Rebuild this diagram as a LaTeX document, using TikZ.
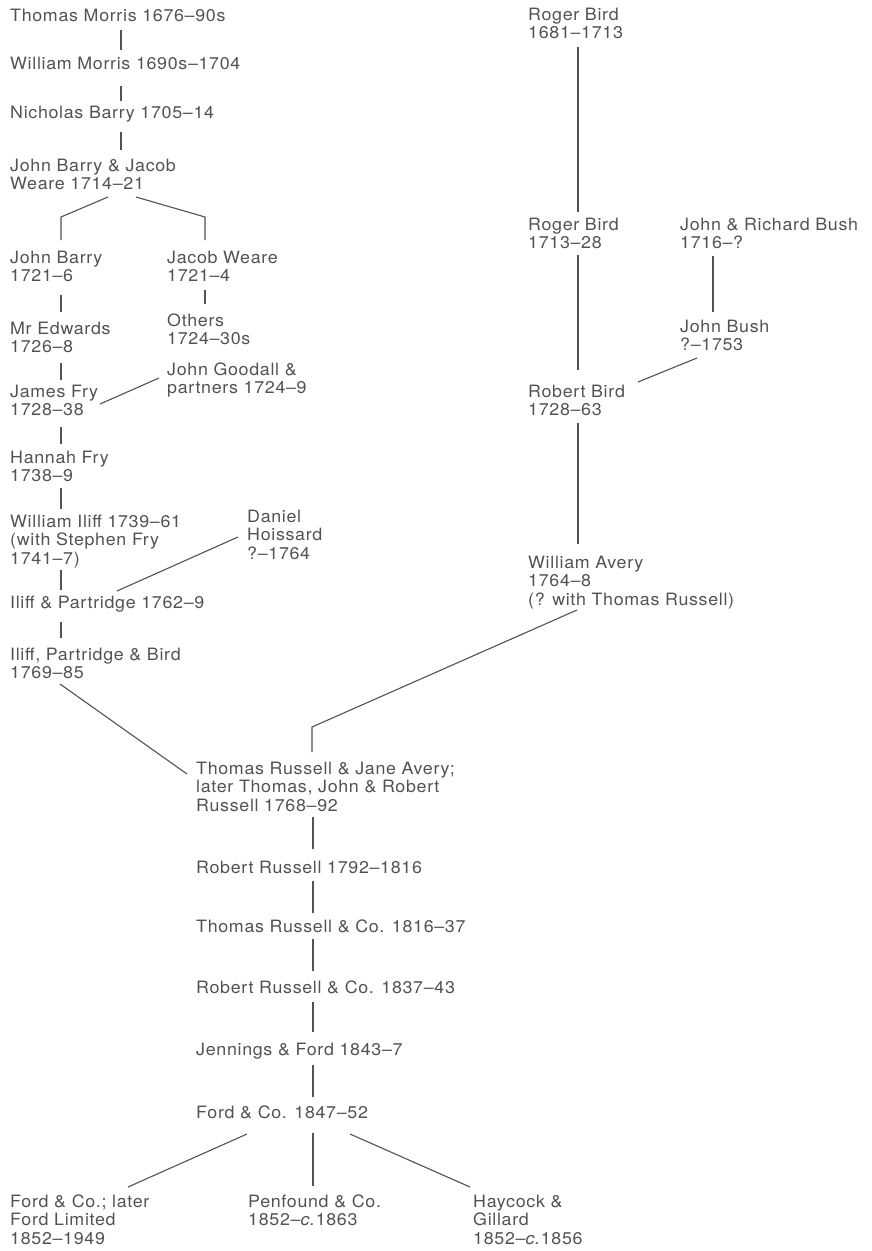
\documentclass[tikz,border=0pt]{standalone}
\usepackage{fontspec}
\setmainfont{TeX Gyre Heros}[FakeStretch=1.05,LetterSpace=4]
\usetikzlibrary{calc}
\definecolor{ink}{RGB}{82,82,82}
\newcommand{\ml}[1]{\begin{tabular}[t]{@{}l@{}}#1\end{tabular}}
\tikzset{
  firm/.style={anchor=base west,inner sep=0pt,text=ink,font=\fontsize{17}{18.5}\selectfont},
  link/.style={draw=ink,line width=1.1pt}
}
\begin{document}
\begin{tikzpicture}[x=1pt,y=-1pt]
\useasboundingbox (0,0) rectangle (872,1251);
% left column
\node[firm] (tm) at (10,21) {Thomas Morris 1676–90s};
\node[firm] (wm) at (10,69) {William Morris 1690s–1704};
\node[firm] (nb) at (10,118) {Nicholas Barry 1705–14};
\node[firm] (jbjw) at (10,171) {\ml{John Barry \& Jacob\\Weare 1714–21}};
\node[firm] (jb) at (10,263) {\ml{John Barry\\1721–6}};
\node[firm] (jw) at (167,263) {\ml{Jacob Weare\\1721–4}};
\node[firm] (oth) at (167,326) {\ml{Others\\1724–30s}};
\node[firm] (me) at (10,334) {\ml{Mr Edwards\\1726–8}};
\node[firm] (jg) at (167,375) {\ml{John Goodall \&\\partners 1724–9}};
\node[firm] (jf) at (10,397) {\ml{James Fry\\1728–38}};
\node[firm] (hf) at (10,463) {\ml{Hannah Fry\\1738–9}};
\node[firm] (wi) at (10,527) {\ml{William Iliff 1739–61\\(with Stephen Fry\\1741–7)}};
\node[firm] (dh) at (247,522) {\ml{Daniel\\Hoissard\\?–1764}};
\node[firm] (ip) at (10,608) {Iliff \& Partridge 1762–9};
\node[firm] (ipb) at (10,660) {\ml{Iliff, Partridge \& Bird\\1769–85}};
% right column
\node[firm] (rb1) at (528,20) {\ml{Roger Bird\\1681–1713}};
\node[firm] (rb2) at (528,230) {\ml{Roger Bird\\1713–28}};
\node[firm] (jrb) at (680,230) {\ml{John \& Richard Bush\\1716–?}};
\node[firm] (jbu) at (680,332) {\ml{John Bush\\?–1753}};
\node[firm] (rob) at (528,397) {\ml{Robert Bird\\1728–63}};
\node[firm] (wa) at (528,568) {\ml{William Avery\\1764–8\\(? with Thomas Russell)}};
% centre column
\node[firm] (tr) at (196,774) {\ml{Thomas Russell \& Jane Avery;\\later Thomas, John \& Robert\\Russell 1768–92}};
\node[firm] (rr) at (196,873) {Robert Russell 1792–1816};
\node[firm] (trc) at (196,932) {Thomas Russell \& Co. 1816–37};
\node[firm] (rrc) at (196,993) {Robert Russell \& Co. 1837–43};
\node[firm] (jef) at (196,1055) {Jennings \& Ford 1843–7};
\node[firm] (fc) at (196,1118) {Ford \& Co. 1847–52};
\node[firm] (fl) at (10,1207) {\ml{Ford \& Co.; later\\Ford Limited\\1852–1949}};
\node[firm] (pf) at (248,1207) {\ml{Penfound \& Co.\\1852–\textit{c.}1863}};
\node[firm] (hg) at (473,1207) {\ml{Haycock \&\\Gillard\\1852–\textit{c.}1856}};
% connectors
\draw[link] ($(tm.base west)+(111,9)$) -- ($(wm.base west)+(111,-19)$);
\draw[link] ($(wm.base west)+(111,17)$) -- ($(nb.base west)+(111,-17)$);
\draw[link] ($(nb.base west)+(111,14)$) -- ($(jbjw.base west)+(111,-21)$);
\draw[link] ($(jbjw.base west)+(98,26)$) -- ($(jb.base west)+(51,-46)$) -- ($(jb.base west)+(51,-23)$);
\draw[link] ($(jbjw.base west)+(126,26)$) -- ($(jw.base west)+(38,-46)$) -- ($(jw.base west)+(38,-23)$);
\draw[link] ($(jb.base west)+(51,32)$) -- ($(me.base west)+(51,-22)$);
\draw[link] ($(jw.base west)+(38,27)$) -- ($(oth.base west)+(38,-22)$);
\draw[link] ($(me.base west)+(51,29)$) -- ($(jf.base west)+(51,-17)$);
\draw[link] ($(jf.base west)+(90,7)$) -- ($(jg.base west)+(-8,3)$);
\draw[link] ($(jf.base west)+(51,30)$) -- ($(hf.base west)+(51,-19)$);
\draw[link] ($(hf.base west)+(51,25)$) -- ($(wi.base west)+(51,-18)$);
\draw[link] ($(wi.base west)+(51,43)$) -- ($(ip.base west)+(51,-18)$);
\draw[link] ($(dh.base west)+(-9,15)$) -- ($(ip.base west)+(107,-17)$);
\draw[link] ($(ip.base west)+(51,14)$) -- ($(ipb.base west)+(51,-22)$);
\draw[link] ($(ipb.base west)+(50,24)$) -- ($(tr.base west)+(-9,0)$);
\draw[link] ($(rb1.base west)+(50,27)$) -- ($(rb2.base west)+(50,-18)$);
\draw[link] ($(rb2.base west)+(50,25)$) -- ($(rob.base west)+(50,-27)$);
\draw[link] ($(jrb.base west)+(33,26)$) -- ($(jbu.base west)+(33,-20)$);
\draw[link] ($(jbu.base west)+(17,26)$) -- ($(rob.base west)+(110,-15)$);
\draw[link] ($(rob.base west)+(50,26)$) -- ($(wa.base west)+(50,-24)$);
\draw[link] ($(wa.base west)+(49,42)$) -- ($(tr.base west)+(116,-47)$) -- ($(tr.base west)+(116,-22)$);
\draw[link] ($(tr.base west)+(117,43)$) -- ($(rr.base west)+(117,-24)$);
\draw[link] ($(rr.base west)+(117,8)$) -- ($(trc.base west)+(117,-19)$);
\draw[link] ($(trc.base west)+(117,7)$) -- ($(rrc.base west)+(117,-22)$);
\draw[link] ($(rrc.base west)+(117,9)$) -- ($(jef.base west)+(117,-23)$);
\draw[link] ($(jef.base west)+(117,10)$) -- ($(fc.base west)+(117,-21)$);
\draw[link] ($(fc.base west)+(51,16)$) -- ($(fl.base west)+(118,-20)$);
\draw[link] ($(fc.base west)+(117,15)$) -- ($(pf.base west)+(65,-21)$);
\draw[link] ($(fc.base west)+(154,16)$) -- ($(hg.base west)+(-3,-20)$);
\end{tikzpicture}
\end{document}
